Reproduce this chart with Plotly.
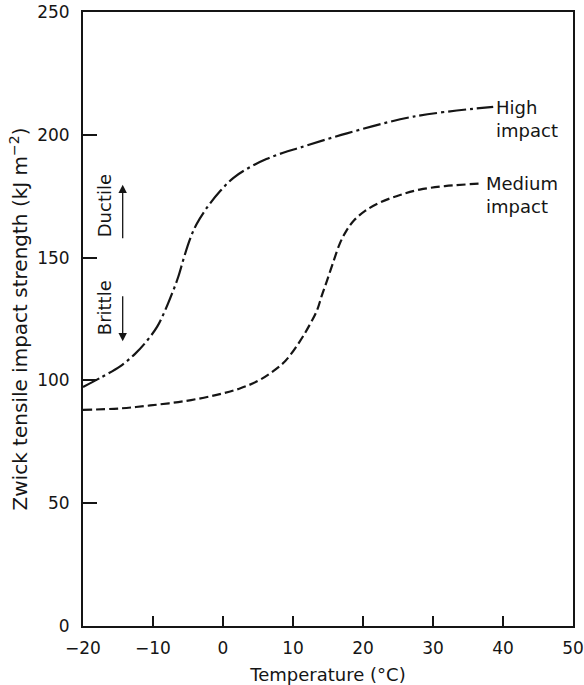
import plotly.graph_objects as go

# Temperature (°C) and Zwick tensile impact strength (kJ m^-2)
temp_high = [-20, -17.3, -14.7, -12.6, -10.9, -9.4, -8.3, -7.3, -6.4, -5.6,
             -4.7, -3.8, -2.3, -0.4, 1.5, 3.9, 6.2, 8.6, 11.0, 17.7, 27.2,
             38.6]
strength_high = [97.3, 101.4, 105.7, 110.7, 116.0, 121.9, 128.3, 135.2, 142.1,
                 149.8, 157.6, 163.5, 170.3, 177.1, 182.5, 186.9, 190.1, 192.7,
                 194.8, 200.6, 207.4, 211.4]

temp_medium = [-20, -14.7, -10.4, -5.4, -0.9, 2.4, 5.0, 7.0, 8.9, 11.0, 12.3,
               13.4, 14.1, 14.8, 15.8, 16.7, 17.6, 18.7, 20.3, 22.4, 25.3,
               28.1, 31.7, 37.1]
strength_medium = [88.0, 88.6, 89.8, 91.6, 94.1, 96.7, 99.8, 103.4, 107.9,
                   116.0, 122.2, 128.3, 134.4, 140.1, 148.6, 155.8, 160.8,
                   165.1, 169.0, 172.4, 175.5, 177.7, 179.1, 180.2]

x_ticks = [-20, -10, 0, 10, 20, 30, 40, 50]
x_tick_text = ["\u221220", "\u221210", "0", "10", "20", "30", "40", "50"]
y_ticks = [0, 50, 100, 150, 200, 250]

FONT = "DejaVu Sans"
INK = "#151515"

fig = go.Figure()

fig.add_trace(go.Scatter(
    x=temp_high, y=strength_high, mode="lines", name="High impact",
    line=dict(color=INK, width=2.2, dash="18px,4px,3px,4px",
              shape="spline", smoothing=1.0),
    hoverinfo="skip",
))
fig.add_trace(go.Scatter(
    x=temp_medium, y=strength_medium, mode="lines", name="Medium impact",
    line=dict(color=INK, width=2.2, dash="9px,4px",
              shape="spline", smoothing=1.0),
    hoverinfo="skip",
))

annotations = [
    # curve labels at the end of each curve
    dict(x=temp_high[-1], y=strength_high[-1], text="High<br>impact",
         xanchor="left", yanchor="top", align="left", showarrow=False,
         yshift=12, xshift=1, font=dict(family=FONT, size=18, color=INK)),
    dict(x=temp_medium[-1], y=strength_medium[-1], text="Medium<br>impact",
         xanchor="left", yanchor="top", align="left", showarrow=False,
         yshift=12, xshift=1, font=dict(family=FONT, size=18, color=INK)),
    # ductile / brittle region markers
    dict(x=-17.0, y=170.9, text="Ductile", textangle=-90, showarrow=False,
         font=dict(family=FONT, size=18, color=INK)),
    dict(x=-17.0, y=129.4, text="Brittle", textangle=-90, showarrow=False,
         font=dict(family=FONT, size=18, color=INK)),
    dict(x=-14.33, y=179.7, ax=-14.33, ay=157.3, axref="x", ayref="y",
         text="", showarrow=True, arrowhead=2, arrowsize=1.3, arrowwidth=1.3,
         arrowcolor=INK, standoff=0, startstandoff=0),
    dict(x=-14.33, y=115.9, ax=-14.33, ay=134.9, axref="x", ayref="y",
         text="", showarrow=True, arrowhead=2, arrowsize=1.3, arrowwidth=1.3,
         arrowcolor=INK, standoff=0, startstandoff=0),
]

fig.update_layout(
    width=584, height=685,
    margin=dict(l=83, r=11, t=12, b=59, autoexpand=False),
    paper_bgcolor="white", plot_bgcolor="white",
    showlegend=False,
    font=dict(family=FONT, size=17, color=INK),
    annotations=annotations,
    xaxis=dict(
        range=[-20, 50], tickmode="array", tickvals=x_ticks, ticktext=x_tick_text,
        ticks="inside", ticklen=10, tickwidth=1.5, tickcolor=INK,
        showline=True, linewidth=2, linecolor=INK, mirror=True,
        showgrid=False, zeroline=False, ticklabelstandoff=6, automargin=False,
        tickfont=dict(family=FONT, size=17, color=INK),
        title=dict(text="Temperature (\u00b0C)", standoff=12,
                   font=dict(family=FONT, size=18, color=INK)),
    ),
    yaxis=dict(
        range=[0, 250], tickmode="array", tickvals=y_ticks,
        ticks="inside", ticklen=14, tickwidth=1.5, tickcolor=INK,
        showline=True, linewidth=2, linecolor=INK, mirror=True,
        showgrid=False, zeroline=False, ticklabelstandoff=8, automargin=False,
        tickfont=dict(family=FONT, size=17, color=INK),
        title=dict(text="Zwick tensile impact strength (kJ m<sup>\u22122</sup>)",
                   standoff=4, font=dict(family=FONT, size=20, color=INK)),
    ),
)

fig.write_html("out.html")
